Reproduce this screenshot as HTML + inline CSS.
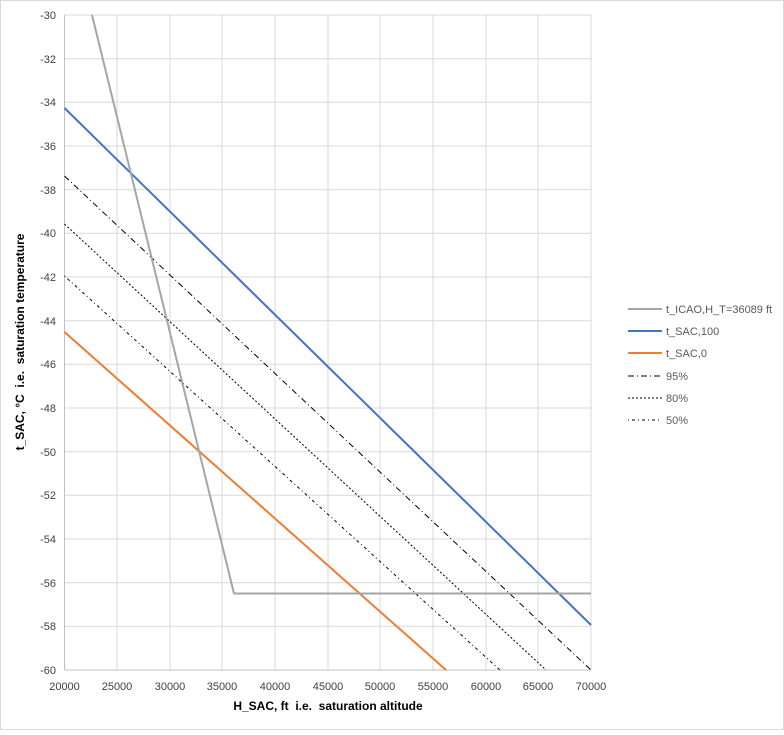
<!DOCTYPE html><html><head><style>body{margin:0;background:#fff}</style></head><body>
<svg width="784" height="730" xmlns="http://www.w3.org/2000/svg" font-family="Liberation Sans, sans-serif">
<rect x="0.5" y="0.5" width="783" height="729" fill="#fff" stroke="#d9d9d9"/>
<g stroke="#d9d9d9" stroke-width="1">
<line x1="117" y1="15" x2="117" y2="670"/><line x1="170" y1="15" x2="170" y2="670"/><line x1="222" y1="15" x2="222" y2="670"/><line x1="275" y1="15" x2="275" y2="670"/><line x1="328" y1="15" x2="328" y2="670"/><line x1="380" y1="15" x2="380" y2="670"/><line x1="433" y1="15" x2="433" y2="670"/><line x1="486" y1="15" x2="486" y2="670"/><line x1="538" y1="15" x2="538" y2="670"/><line x1="591" y1="15" x2="591" y2="670"/>
<line x1="64.5" y1="15" x2="591" y2="15"/><line x1="64.5" y1="58.7" x2="591" y2="58.7"/><line x1="64.5" y1="102.3" x2="591" y2="102.3"/><line x1="64.5" y1="146" x2="591" y2="146"/><line x1="64.5" y1="189.7" x2="591" y2="189.7"/><line x1="64.5" y1="233.3" x2="591" y2="233.3"/><line x1="64.5" y1="277" x2="591" y2="277"/><line x1="64.5" y1="320.7" x2="591" y2="320.7"/><line x1="64.5" y1="364.3" x2="591" y2="364.3"/><line x1="64.5" y1="408" x2="591" y2="408"/><line x1="64.5" y1="451.7" x2="591" y2="451.7"/><line x1="64.5" y1="495.3" x2="591" y2="495.3"/><line x1="64.5" y1="539" x2="591" y2="539"/><line x1="64.5" y1="582.7" x2="591" y2="582.7"/><line x1="64.5" y1="626.3" x2="591" y2="626.3"/>
</g>
<g stroke="#bfbfbf"><line x1="64.5" y1="15" x2="64.5" y2="670"/><line x1="64.5" y1="670" x2="591" y2="670"/></g>
<g font-size="11" fill="#404040" text-anchor="end">
<text x="56" y="19">-30</text><text x="56" y="63">-32</text><text x="56" y="106">-34</text><text x="56" y="150">-36</text><text x="56" y="194">-38</text><text x="56" y="237">-40</text><text x="56" y="281">-42</text><text x="56" y="325">-44</text><text x="56" y="368">-46</text><text x="56" y="412">-48</text><text x="56" y="456">-50</text><text x="56" y="499">-52</text><text x="56" y="543">-54</text><text x="56" y="587">-56</text><text x="56" y="630">-58</text><text x="56" y="674">-60</text>
</g>
<g font-size="11" fill="#404040" text-anchor="middle">
<text x="64.5" y="690">20000</text><text x="117" y="690">25000</text><text x="170" y="690">30000</text><text x="222" y="690">35000</text><text x="275" y="690">40000</text><text x="328" y="690">45000</text><text x="380" y="690">50000</text><text x="433" y="690">55000</text><text x="486" y="690">60000</text><text x="538" y="690">65000</text><text x="591" y="690">70000</text>
</g>
<text x="328" y="710" font-size="12" font-weight="bold" fill="#000" text-anchor="middle">H_SAC, ft&#160;&#160;i.e.&#160;&#160;saturation altitude</text>
<text transform="translate(24,342) rotate(-90)" font-size="12" font-weight="bold" fill="#000" text-anchor="middle">t_SAC, °C&#160;&#160;i.e.&#160;&#160;saturation temperature</text>
<g fill="none" stroke-width="1">
<line x1="64.5" y1="176" x2="591" y2="670" stroke="#000" stroke-dasharray="6,3,1,3"/>
<line x1="64.5" y1="224" x2="546" y2="670" stroke="#000" stroke-dasharray="2,2"/>
<line x1="64.5" y1="276" x2="500" y2="670" stroke="#000" stroke-dasharray="1,3,3,3"/>
</g>
<line x1="64.5" y1="108" x2="591" y2="625" stroke="#4472c4" stroke-width="2"/>
<line x1="64.5" y1="332" x2="446" y2="670" stroke="#ed7d31" stroke-width="2"/>
<polyline points="92,15 234,593.5 591,593.5" fill="none" stroke="#a5a5a5" stroke-width="2"/>
<g font-size="11" fill="#595959">
<line x1="628" y1="309" x2="662" y2="309" stroke="#a5a5a5" stroke-width="2"/><text x="666" y="313">t_ICAO,H_T=36089 ft</text>
<line x1="628" y1="331" x2="662" y2="331" stroke="#4472c4" stroke-width="2"/><text x="666" y="335">t_SAC,100</text>
<line x1="628" y1="353" x2="662" y2="353" stroke="#ed7d31" stroke-width="2"/><text x="666" y="357">t_SAC,0</text>
<line x1="628" y1="376" x2="662" y2="376" stroke="#000" stroke-dasharray="6,3,1,3"/><text x="666" y="380">95%</text>
<line x1="628" y1="398" x2="662" y2="398" stroke="#000" stroke-dasharray="2,2"/><text x="666" y="402">80%</text>
<line x1="628" y1="420" x2="662" y2="420" stroke="#000" stroke-dasharray="1,3,3,3"/><text x="666" y="424">50%</text>
</g>
</svg></body></html>
